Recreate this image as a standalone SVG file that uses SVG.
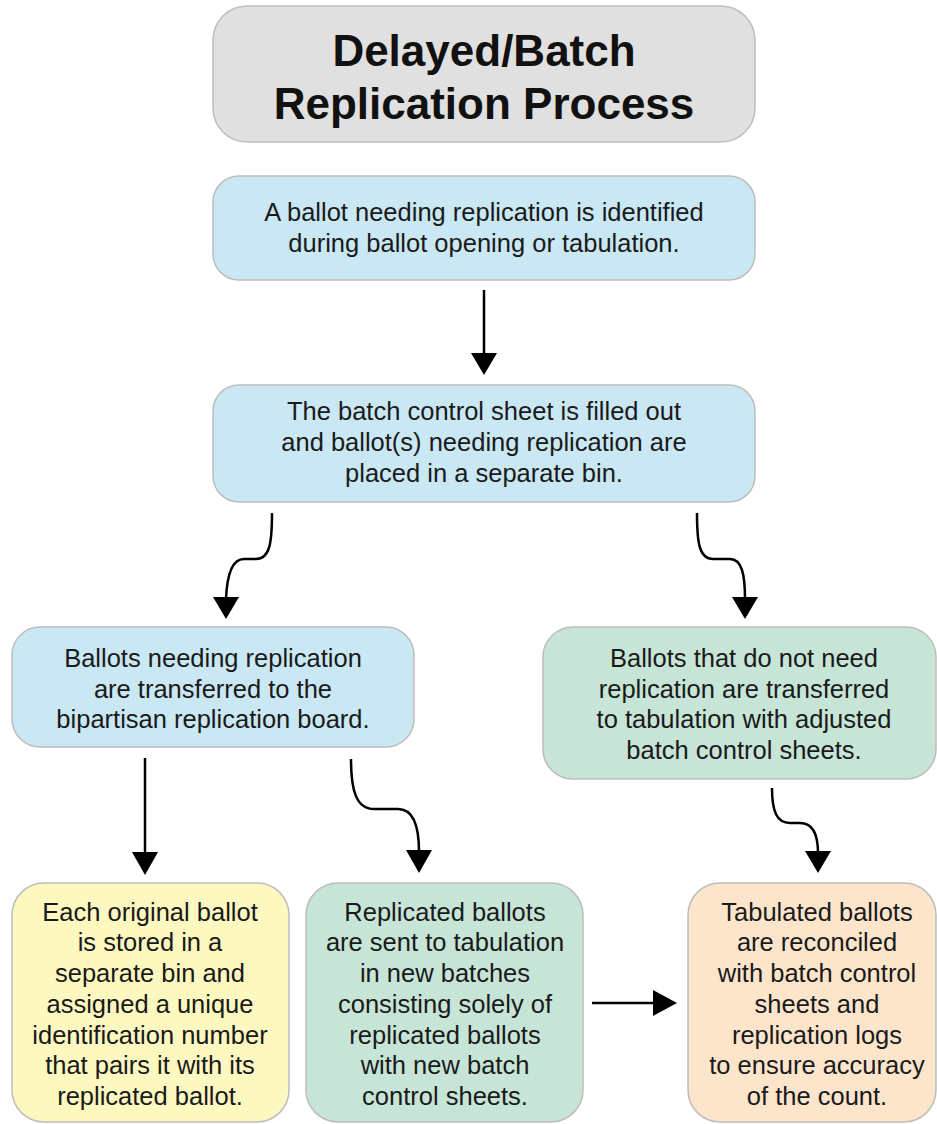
<svg xmlns="http://www.w3.org/2000/svg" width="937" height="1124" viewBox="0 0 937 1124">
<style>
.box{stroke:#bdbdbd;stroke-width:1.5}
.t{font-family:"Liberation Sans",Arial,sans-serif;font-size:25.5px;fill:#1a1a1a;text-anchor:middle}
.title{font-family:"Liberation Sans",Arial,sans-serif;font-size:44px;font-weight:bold;fill:#111;text-anchor:middle}
.c{fill:none;stroke:#000;stroke-width:2.5}
.h{fill:#000}
</style>
<rect width="937" height="1124" fill="#fff"/>
<g id="title">
<rect class="box" x="213" y="6" width="542" height="136" rx="34" fill="#e0e0e0"/>
<text class="title" x="484" y="66">Delayed/Batch</text>
<text class="title" x="484" y="119">Replication Process</text>
</g>
<g id="n1">
<rect class="box" x="213" y="176" width="542" height="104" rx="26" fill="#c9e8f4"/>
<text class="t" x="484" y="221">A ballot needing replication is identified</text>
<text class="t" x="484" y="252">during ballot opening or tabulation.</text>
</g>
<g id="n2">
<rect class="box" x="213" y="385" width="542" height="117" rx="26" fill="#c9e8f4"/>
<text class="t" x="484" y="420">The batch control sheet is filled out</text>
<text class="t" x="484" y="451">and ballot(s) needing replication are</text>
<text class="t" x="484" y="482">placed in a separate bin.</text>
</g>
<g id="n3">
<rect class="box" x="12" y="627" width="402" height="120" rx="28" fill="#c9e8f4"/>
<text class="t" x="213" y="667">Ballots needing replication</text>
<text class="t" x="213" y="698">are transferred to the</text>
<text class="t" x="213" y="728">bipartisan replication board.</text>
</g>
<g id="n4">
<rect class="box" x="543" y="627" width="393" height="152" rx="30" fill="#c6e5d6"/>
<text class="t" x="744" y="667">Ballots that do not need</text>
<text class="t" x="744" y="698">replication are transferred</text>
<text class="t" x="744" y="728">to tabulation with adjusted</text>
<text class="t" x="744" y="759">batch control sheets.</text>
</g>
<g id="n5">
<rect class="box" x="12" y="883" width="277" height="239" rx="32" fill="#fdf8c0"/>
<text class="t" x="150" y="921">Each original ballot</text>
<text class="t" x="150" y="951">is stored in a</text>
<text class="t" x="150" y="982">separate bin and</text>
<text class="t" x="150" y="1013">assigned a unique</text>
<text class="t" x="150" y="1044">identification number</text>
<text class="t" x="150" y="1074">that pairs it with its</text>
<text class="t" x="150" y="1105">replicated ballot.</text>
</g>
<g id="n6">
<rect class="box" x="306" y="883" width="277" height="239" rx="32" fill="#c6e5d6"/>
<text class="t" x="445" y="921">Replicated ballots</text>
<text class="t" x="445" y="951">are sent to tabulation</text>
<text class="t" x="445" y="982">in new batches</text>
<text class="t" x="445" y="1013">consisting solely of</text>
<text class="t" x="445" y="1044">replicated ballots</text>
<text class="t" x="445" y="1074">with new batch</text>
<text class="t" x="445" y="1105">control sheets.</text>
</g>
<g id="n7">
<rect class="box" x="688" y="883" width="248" height="239" rx="32" fill="#fde5cc"/>
<text class="t" x="817" y="921">Tabulated ballots</text>
<text class="t" x="817" y="951">are reconciled</text>
<text class="t" x="817" y="982">with batch control</text>
<text class="t" x="817" y="1013">sheets and</text>
<text class="t" x="817" y="1044">replication logs</text>
<text class="t" x="817" y="1074">to ensure accuracy</text>
<text class="t" x="817" y="1105">of the count.</text>
</g>
<g id="connectors">
<path class="c" d="M484,290 L484,355"/>
<polygon class="h" points="471,353 497,353 484,375"/>
<path class="c" d="M272,513 C272,542 270,559 256,559 L244,559 C232,559 227,575 226,599"/>
<polygon class="h" points="213,597 239,597 226,619"/>
<path class="c" d="M697,513 C697,542 699,559 713,559 L730,559 C742,559 745,575 745,599"/>
<polygon class="h" points="732,597 758,597 745,619"/>
<path class="c" d="M145,758 L145,854"/>
<polygon class="h" points="132,852 158,852 145,875"/>
<path class="c" d="M351,759 C351,790 356,809 374,809 L398,809 C414,809 419,828 419,852"/>
<polygon class="h" points="406,850 432,850 419,873"/>
<path class="c" d="M772,788 C772,812 777,823 790,823 L800,823 C813,823 818,835 818,853"/>
<polygon class="h" points="805,851 831,851 818,873"/>
<path class="c" d="M592,1003 L655,1003"/>
<polygon class="h" points="653,990 653,1016 677,1003"/>
</g>
</svg>
